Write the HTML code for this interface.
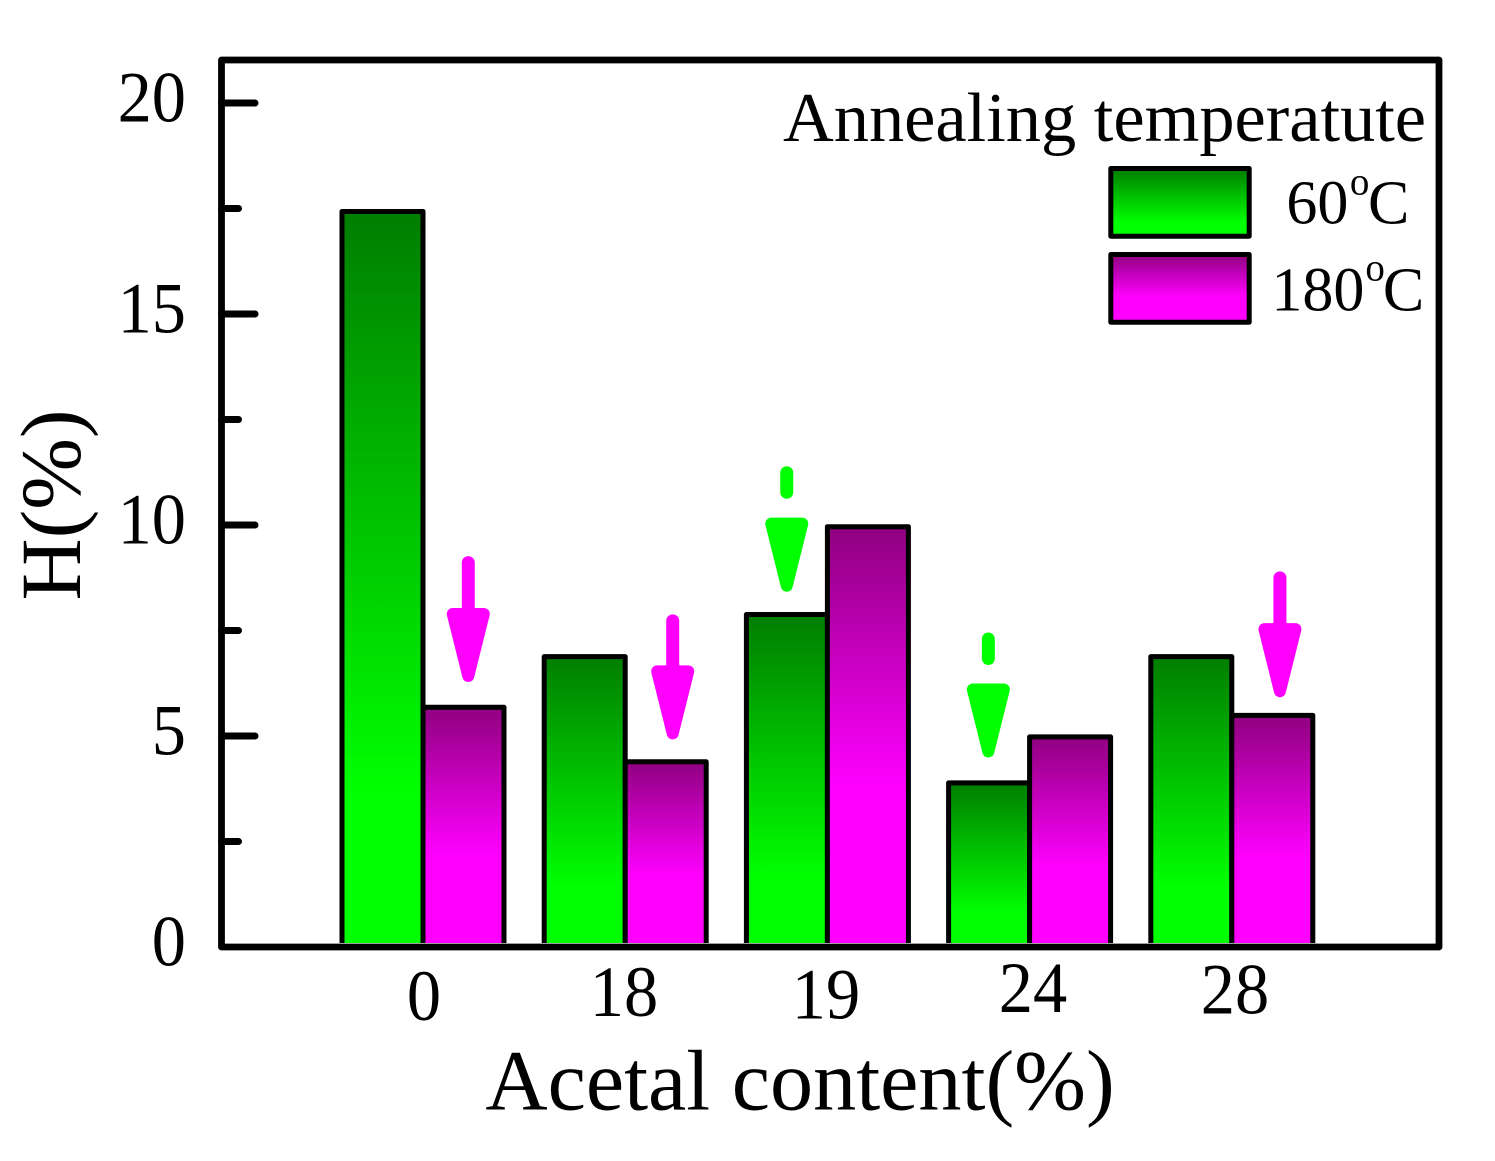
<!DOCTYPE html>
<html>
<head>
<meta charset="utf-8">
<style>
html,body{margin:0;padding:0;background:#fff;}
svg{display:block;}
text{font-family:"Liberation Serif",serif;fill:#000;}
</style>
</head>
<body>
<svg id="chart" width="1495" height="1161" viewBox="0 0 1495 1161" xmlns="http://www.w3.org/2000/svg">
<defs>
<linearGradient id="green-grad" x1="0" y1="0" x2="0" y2="1">
<stop offset="0" stop-color="#007d00"/><stop offset="0.79" stop-color="#00ff00"/><stop offset="1" stop-color="#00ff00"/>
</linearGradient>
<linearGradient id="mag-grad" x1="0" y1="0" x2="0" y2="1">
<stop offset="0" stop-color="#8f007f"/><stop offset="0.62" stop-color="#ff00ff"/><stop offset="1" stop-color="#ff00ff"/>
</linearGradient>
</defs>
<g id="plot"></g>
</svg>
<script>
const categories = ["0", "18", "19", "24", "28"];
const series60 = [17.43, 6.88, 7.88, 3.89, 6.88];
const series180 = [5.68, 4.39, 9.96, 4.98, 5.49];
const yMajorTicks = [0, 5, 10, 15, 20];
const yMinorTicks = [2.5, 7.5, 12.5, 17.5];
const arrowLabels = ["0", "18", "19", "24", "28"];
const arrowCategoryPos = [0.224, 1.235, 1.799, 2.796, 4.238];
const arrowSeries = ["180", "180", "60", "60", "180"];
const arrowTipValues = [6.28, 4.92, 8.42, 4.49, 5.92];
const arrowTailValues = [9.25, 7.87, 11.38, 7.44, 8.89];

const NS = "http://www.w3.org/2000/svg";
const plot = document.getElementById("plot");
const left = 221.5, right = 1439, top_ = 60, bottom = 947;
const y0 = 947, yPerUnit = 42.2;
const firstX = 423, stepX = 202.2, barW = 81;
const y = v => y0 - v * yPerUnit;
const xCenter = i => firstX + i * stepX;

function make(tag, attrs, name, parent) {
  const el = document.createElementNS(NS, tag);
  for (const k in attrs) el.setAttribute(k, attrs[k]);
  
  
  (parent || plot).appendChild(el);
  return el;
}
function label(str, x, yy, size, anchor, name, extra) {
  const t = make("text", Object.assign({x: x, y: yy, "font-size": size, "text-anchor": anchor}, extra || {}), name);
  t.textContent = str;
  return t;
}

categories.forEach((c, i) => {
  const xc = xCenter(i);
  const h60 = series60[i], h180 = series180[i];
  make("rect", {x: xc - barW, y: y(h60), width: barW, height: y0 - y(h60),
    fill: "url(#green-grad)", stroke: "#000", "stroke-width": 5, "stroke-linejoin": "round"}, "bar-60c-" + c);
  make("rect", {x: xc, y: y(h180), width: barW, height: y0 - y(h180),
    fill: "url(#mag-grad)", stroke: "#000", "stroke-width": 5, "stroke-linejoin": "round"}, "bar-180c-" + c);
});
make("line", {x1: left, y1: 943.5, x2: right, y2: 943.5, stroke: "#fff", "stroke-width": 1}, "bar-baseline-gap");

arrowCategoryPos.forEach((pos, i) => {
  const is180 = arrowSeries[i] === "180";
  const col = is180 ? "#ff00ff" : "#00ff00";
  const cx = xCenter(pos);
  const tip = y(arrowTipValues[i]);
  const tail = y(arrowTailValues[i]);
  const headTop = tip - 74;
  const g = make("g", {}, "arrow-" + arrowLabels[i]);
  const shaftEnd = is180 ? headTop + 6 : tail + 25.5;
  make("line", {x1: cx, y1: tail + 6, x2: cx, y2: shaftEnd, stroke: col, "stroke-width": 13, "stroke-linecap": "round"}, "arrow-shaft", g);
  const pts = [[cx - 15.5, headTop + 6], [cx + 15.5, headTop + 6], [cx, tip - 6]];
  make("polygon", {points: pts.map(p => p.join(",")).join(" "), fill: col, stroke: col, "stroke-width": 12, "stroke-linejoin": "round"}, "arrow-head", g);
});

make("rect", {x: left, y: top_, width: right - left, height: bottom - top_, fill: "none", stroke: "#000", "stroke-width": 6.8, "stroke-linejoin": "round"}, "plot-frame");

yMajorTicks.forEach(v => {
  if (v > 0) make("line", {x1: left, y1: y(v), x2: 255, y2: y(v), stroke: "#000", "stroke-width": 7, "stroke-linecap": "round"}, "y-major-tick-" + v);
  label(String(v), 0, 0, 72, "end", "y-tick-label-" + v, {transform: "translate(186," + (y(v) + 18.5) + ") scale(0.95,1)"});
});
yMinorTicks.forEach(v => {
  make("line", {x1: left, y1: y(v), x2: 238.5, y2: y(v), stroke: "#000", "stroke-width": 7, "stroke-linecap": "round"}, "y-minor-tick-" + v);
});

const xLabelY = [1020, 1016, 1018.5, 1012, 1013.5];
const xLabelX = [424, 624, 826, 1033, 1235];
categories.forEach((c, i) => {
  label(c, 0, 0, 72, "middle", "x-tick-label-" + c, {transform: "translate(" + xLabelX[i] + "," + xLabelY[i] + ") scale(0.95,1)"});
});

label("Acetal content(%)", 800, 1109.5, 86.2, "middle", "x-axis-title");
label("H(%)", 0, 0, 86, "middle", "y-axis-title", {transform: "translate(80,505) rotate(-90)"});

label("Annealing temperatute", 1426, 141, 70.4, "end", "legend-title");
make("rect", {x: 1110.8, y: 168.5, width: 138.4, height: 67.7, fill: "url(#green-grad)", stroke: "#000", "stroke-width": 5, "stroke-linejoin": "round"}, "legend-swatch-60c");
make("rect", {x: 1110.8, y: 254.5, width: 138.4, height: 67.7, fill: "url(#mag-grad)", stroke: "#000", "stroke-width": 5, "stroke-linejoin": "round"}, "legend-swatch-180c");

const l1 = label("60", 1286.4, 223.5, 62, "start", "legend-label-60c");
const o1 = document.createElementNS(NS, "tspan");
o1.setAttribute("dy", "-29"); o1.setAttribute("dx", "1.5"); o1.setAttribute("font-size", "39"); o1.textContent = "o"; l1.appendChild(o1);
const c1 = document.createElementNS(NS, "tspan");
c1.setAttribute("dy", "29"); c1.setAttribute("dx", "-1.4"); c1.textContent = "C"; l1.appendChild(c1);

const l2 = label("180", 1271.4, 310.5, 62, "start", "legend-label-180c");
const o2 = document.createElementNS(NS, "tspan");
o2.setAttribute("dy", "-30"); o2.setAttribute("dx", "1"); o2.setAttribute("font-size", "39"); o2.textContent = "o"; l2.appendChild(o2);
const c2 = document.createElementNS(NS, "tspan");
c2.setAttribute("dy", "30"); c2.setAttribute("dx", "-2"); c2.textContent = "C"; l2.appendChild(c2);
</script>
</body>
</html>
